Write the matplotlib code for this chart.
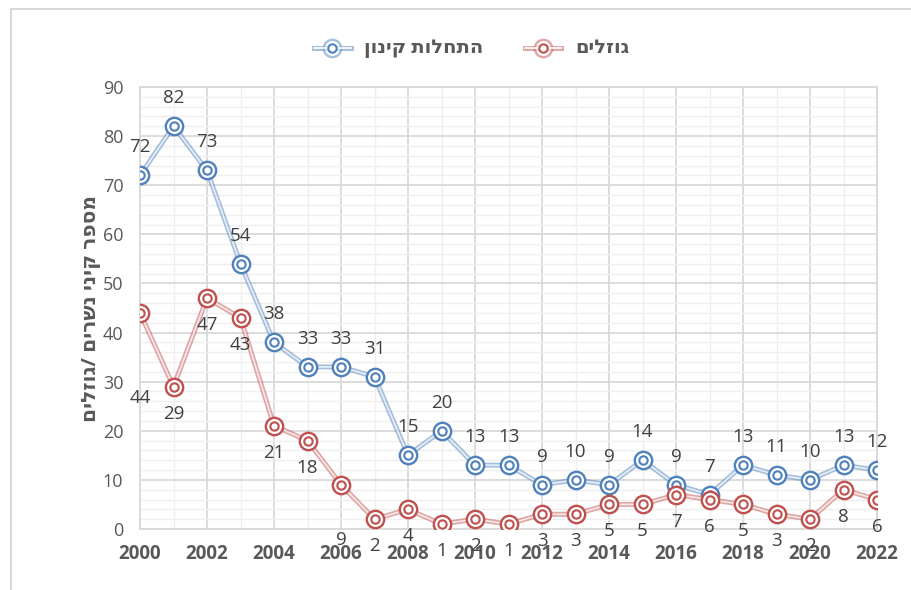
import matplotlib.pyplot as plt
from matplotlib.lines import Line2D
from matplotlib.patches import Rectangle
from matplotlib.ticker import MultipleLocator

plt.rcParams['font.family'] = ['Open Sans', 'DejaVu Sans']

years = list(range(2000, 2023))
nesting = [72, 82, 73, 54, 38, 33, 33, 31, 15, 20, 13, 13, 9, 10, 9, 14, 9, 7, 13, 11, 10, 13, 12]
chicks = [44, 29, 47, 43, 21, 18, 9, 2, 4, 1, 2, 1, 3, 3, 5, 5, 7, 6, 5, 3, 2, 8, 6]
nesting_name = "התחלות קינון"
chicks_name = "גוזלים"
y_title = "מספר קיני נשרים /גוזלים"

blue = "#4f81bd"
red = "#c0504d"
text_grey = "#595959"
label_grey = "#404040"


def rtl(s):
    # matplotlib has no bidi support, so hand it the visual order
    return s[::-1]


fig = plt.figure(figsize=(9.11, 5.9), dpi=100)
ax = fig.add_axes([140 / 911, 1 - 529 / 590, 737 / 911, 442 / 590])

# chart border (runs off the right / bottom of the picture)
fig.patches.append(Rectangle((11 / 911, -0.2), 1.2, 1.2 - 9 / 590,
                             transform=fig.transFigure, fill=False,
                             edgecolor="#d9d9d9", lw=1.5, zorder=0))


def draw_series(x, y, color, z):
    ax.plot(x, y, color=color, lw=3.6, alpha=0.5, zorder=z, solid_capstyle='round')
    ax.plot(x, y, color="white", lw=1.2, alpha=0.75, zorder=z + 0.1)
    ax.plot(x, y, ls='none', marker='o', ms=12.5, mfc='white', mec=color, mew=1.7, zorder=z + 0.2)
    ax.plot(x, y, ls='none', marker='o', ms=6, mfc='white', mec=color, mew=1.5, zorder=z + 0.3)


draw_series(years, nesting, blue, 3)
draw_series(years, chicks, red, 4)

for x, v in zip(years, nesting):
    ax.annotate(str(v), (x, v), xytext=(0, 28), textcoords='offset pixels',
                ha='center', va='center', fontsize=13.5, color=label_grey, zorder=6)

red_offsets = {2000: -85, 2006: -55}
for x, v in zip(years, chicks):
    ax.annotate(str(v), (x, v), xytext=(0, red_offsets.get(x, -27)), textcoords='offset pixels',
                ha='center', va='center', fontsize=13.5, color=label_grey, zorder=6,
                annotation_clip=False)

ax.set_xlim(2000, 2022)
ax.set_ylim(0, 90)
ax.xaxis.set_major_locator(MultipleLocator(2))
ax.xaxis.set_minor_locator(MultipleLocator(1))
ax.yaxis.set_major_locator(MultipleLocator(10))
ax.yaxis.set_minor_locator(MultipleLocator(2))
ax.grid(which='major', color="#d9d9d9", lw=1.3, zorder=0)
ax.grid(which='minor', color="#efefef", lw=1.0, zorder=0)
ax.set_axisbelow(True)
ax.tick_params(which='both', length=0)
ax.tick_params(axis='y', pad=12, labelsize=13, labelcolor=text_grey)
ax.tick_params(axis='x', pad=11, labelsize=13.5, labelcolor=text_grey)
for lab in ax.get_xticklabels():
    lab.set_fontweight('bold')
for s in ax.spines.values():
    s.set_color("#d9d9d9")
    s.set_linewidth(1.3)

ax.set_ylabel(rtl(y_title), fontsize=14.5, fontweight='bold', color=text_grey, labelpad=1)


def handle(color):
    outer = Line2D([], [], color=color, lw=3.6, alpha=0.5, marker='o', ms=12.5,
                   mfc='white', mec=color, mew=1.7)
    inner = Line2D([], [], color='white', lw=1.2, marker='o', ms=6,
                   mfc='white', mec=color, mew=1.5)
    return (outer, inner)


leg = fig.legend([handle(blue), handle(red)], [rtl(nesting_name), rtl(chicks_name)],
                 loc='center', bbox_to_anchor=(472 / 911, 1 - 48 / 590), ncol=2,
                 frameon=False, columnspacing=3, handlelength=2.6, handletextpad=1.0)
for t in leg.get_texts():
    t.set_fontweight('bold')
    t.set_color(text_grey)
    t.set_fontsize(14)

fig.savefig("out.png", dpi=100)
